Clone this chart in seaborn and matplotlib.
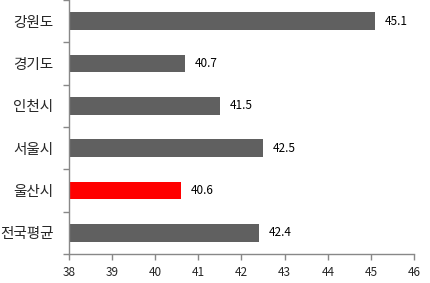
import matplotlib
matplotlib.use("Agg")
import matplotlib.pyplot as plt
import seaborn as sns
import pandas as pd
import numpy as np

categories = ["강원도", "경기도", "인천시", "서울시", "울산시", "전국평균"]
values = [45.1, 40.7, 41.5, 42.5, 40.6, 42.4]
colors = ["#606060", "#606060", "#606060", "#606060", "#ff0000", "#606060"]
xticks = [38, 39, 40, 41, 42, 43, 44, 45, 46]

sns.set_theme(style="white")
plt.rcParams['font.family'] = ['Noto Sans CJK KR', 'DejaVu Sans']

df = pd.DataFrame({"cat": categories, "val": values})
fig = plt.figure(figsize=(4.30, 2.83), dpi=100)
ax = fig.add_axes([0.16, 0.1025, 0.803, 0.8975])

sns.barplot(data=df, x="val", y="cat", hue="cat", palette=colors, legend=False,
            orient="h", width=0.41, ax=ax, saturation=1, linewidth=0)
for cont in ax.containers:
    ax.bar_label(cont, fmt="%.1f", padding=7, fontsize=8.5, color="black")

ax.set_xlim(38, 46)
ax.set_ylim(len(categories) - 0.5, -0.5)
ax.set_xticks(xticks)
ax.set_xticklabels([str(t) for t in xticks], fontsize=8.5)
ax.set_yticks(np.arange(-0.5, len(categories), 1.0))
ax.set_yticklabels([])
ax.set_yticks(np.arange(len(categories)), minor=True)
ax.set_yticklabels(categories, minor=True, fontsize=10.5)
ax.tick_params(axis="y", which="major", length=4, width=1, color="#888888", left=True)
ax.tick_params(axis="y", which="minor", length=0, pad=11)
ax.tick_params(axis="x", length=4, width=1, color="#888888", bottom=True, pad=5)
ax.set_xlabel("")
ax.set_ylabel("")
for s in ["top", "right"]:
    ax.spines[s].set_visible(False)
for s in ["left", "bottom"]:
    ax.spines[s].set_color("#888888")
    ax.spines[s].set_linewidth(1)
ax.grid(False)
fig.savefig("out.png", dpi=100)
